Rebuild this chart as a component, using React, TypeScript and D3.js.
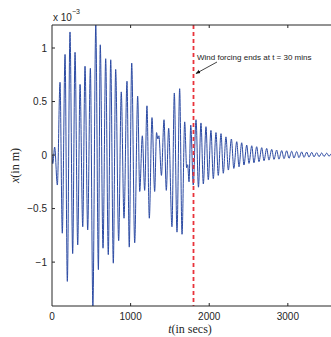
import React, { useEffect, useRef } from "react";
import * as d3 from "d3";

// extrema of the displacement signal, values in units of 1e-3 m
const forcedTimes = [0, 10, 34, 68, 102, 131, 166, 195, 229, 263, 293, 327, 357, 391, 420, 454, 488, 520, 557, 590,
  614, 649, 683, 716, 747, 780, 810, 848, 881, 916, 954, 983, 1014, 1052, 1090, 1116, 1149, 1179, 1208, 1238,
  1272, 1306, 1330, 1347, 1360, 1392, 1425, 1454, 1484, 1526, 1556, 1590, 1624, 1654, 1688, 1713, 1726, 1743,
  1765, 1797];
const forcedValues = [0, -0.08, 0.075, -0.28, 0.68, -0.73, 0.94, -1.18, 1.15, -0.92, 0.96, -0.84, 0.66, -0.67, 0.83,
  -0.7, 0.81, -1.41, 1.215, -1.07, 1.03, -0.87, 0.9, -0.93, 0.89, -1.01, 0.8, -0.8, 0.59, -0.59, 0.69, -0.86, 0.86,
  -0.82, 0.55, -0.34, 0.18, -0.33, 0.46, -0.59, 0.35, -0.34, 0.21, 0.15, 0.18, -0.19, 0.33, -0.33, 0.25, -0.67,
  0.58, -0.72, 0.62, -0.74, 0.31, -0.12, -0.09, -0.25, 0.28, -0.28];

const decayTimes = [1832, 1863, 1895, 1925, 1959, 1988, 2022, 2052, 2086, 2115, 2150, 2179, 2213, 2243, 2282, 2313,
  2350, 2379, 2413, 2442, 2477, 2506, 2541, 2569, 2604, 2633, 2668, 2697, 2731, 2760, 2795, 2824, 2858, 2887,
  2922, 2951, 2985, 3015, 3049, 3078, 3113, 3142, 3176, 3206, 3240, 3269, 3304, 3333, 3367, 3397, 3431, 3460,
  3495, 3524, 3558, 3588, 3600];
const decayValues = [0.33, -0.3, 0.3, -0.27, 0.265, -0.23, 0.23, -0.22, 0.21, -0.19, 0.2, -0.17, 0.17, -0.14, 0.15,
  -0.125, 0.125, -0.11, 0.115, -0.093, 0.093, -0.078, 0.087, -0.072, 0.078, -0.062, 0.069, -0.053, 0.062, -0.047,
  0.053, -0.04, 0.047, -0.038, 0.042, -0.034, 0.04, -0.03, 0.036, -0.027, 0.033, -0.024, 0.03, -0.021, 0.028,
  -0.019, 0.025, -0.017, 0.022, -0.015, 0.02, -0.013, 0.018, -0.011, 0.016, -0.01, 0.005];

const xTicks = [0, 1000, 2000, 3000];
const yTicks = [-1, -0.5, 0, 0.5, 1];
const forcingEnd = 1800;

const App = () => {
  const ref = useRef<SVGSVGElement>(null);

  useEffect(() => {
    const svg = d3.select(ref.current);
    svg.selectAll("*").remove();

    const width = 331;
    const height = 337;
    const left = 52, top = 25, bottom = 306, right = 335;

    const data = forcedTimes.map((t, i) => ({ t, v: forcedValues[i] }))
      .concat(decayTimes.map((t, i) => ({ t, v: decayValues[i] })));

    const x = d3.scaleLinear().domain([0, 3600]).range([left, right]);
    const y = d3.scaleLinear().domain(d3.extent(data, d => d.v) as [number, number]).range([bottom, top]);

    svg.attr("width", width).attr("height", height);

    svg.append("defs").append("clipPath").attr("id", "plotclip")
      .append("rect").attr("x", left).attr("y", top)
      .attr("width", right - left).attr("height", bottom - top);

    const axisColor = "#262626";
    const tickFont = "'Liberation Sans', Arial, sans-serif";

    // signal
    const line = d3.line<{ t: number; v: number }>()
      .x(d => x(d.t))
      .y(d => y(d.v))
      .curve(d3.curveMonotoneX);

    svg.append("path")
      .datum(data)
      .attr("clip-path", "url(#plotclip)")
      .attr("d", line)
      .attr("fill", "none")
      .attr("stroke", "#2b4aa3")
      .attr("stroke-width", 1);

    // red dashed line where the wind forcing stops
    svg.append("line")
      .attr("x1", x(forcingEnd)).attr("x2", x(forcingEnd))
      .attr("y1", top).attr("y2", bottom)
      .attr("stroke", "#e8333b")
      .attr("stroke-width", 1.8)
      .attr("stroke-dasharray", "4,3");

    // box (left, bottom, top)
    svg.append("path")
      .attr("d", `M${right},${top}H${left}V${bottom}H${right}`)
      .attr("fill", "none")
      .attr("stroke", axisColor)
      .attr("stroke-width", 1);

    // x ticks, inward from bottom and top
    xTicks.forEach(t => {
      if (t === 0) return;
      svg.append("line").attr("x1", x(t)).attr("x2", x(t)).attr("y1", bottom).attr("y2", bottom - 3)
        .attr("stroke", axisColor);
      svg.append("line").attr("x1", x(t)).attr("x2", x(t)).attr("y1", top).attr("y2", top + 3)
        .attr("stroke", axisColor);
    });
    svg.selectAll(".xlab")
      .data(xTicks)
      .enter()
      .append("text")
      .attr("x", d => x(d))
      .attr("y", bottom + 14)
      .attr("text-anchor", "middle")
      .style("font-family", tickFont)
      .style("font-size", "10px")
      .attr("fill", axisColor)
      .text(d => d);

    // y ticks, inward from left
    yTicks.forEach(t => {
      svg.append("line").attr("x1", left).attr("x2", left + 3).attr("y1", y(t)).attr("y2", y(t))
        .attr("stroke", axisColor);
    });
    svg.selectAll(".ylab")
      .data(yTicks)
      .enter()
      .append("text")
      .attr("x", left - 5)
      .attr("y", d => y(d) + 3.5)
      .attr("text-anchor", "end")
      .style("font-family", tickFont)
      .style("font-size", "10px")
      .attr("fill", axisColor)
      .text(d => (d < 0 ? "\u2212" + Math.abs(d) : String(d)));

    // exponent
    const expo = svg.append("text")
      .attr("x", left + 1)
      .attr("y", 21)
      .style("font-family", tickFont)
      .style("font-size", "10px")
      .attr("fill", axisColor);
    expo.append("tspan").text("x 10");
    expo.append("tspan").attr("dy", -7).style("font-size", "7px").text("\u22123");

    // axis labels
    const serif = "'Liberation Serif', 'Times New Roman', serif";
    const xl = svg.append("text")
      .attr("x", 190)
      .attr("y", 333)
      .attr("text-anchor", "middle")
      .style("font-family", serif)
      .style("font-size", "12px")
      .attr("fill", axisColor);
    xl.append("tspan").style("font-style", "italic").text("t");
    xl.append("tspan").text("(in secs)");

    const yl = svg.append("text")
      .attr("transform", `translate(19, ${(top + bottom) / 2}) rotate(-90)`)
      .attr("text-anchor", "middle")
      .style("font-family", serif)
      .style("font-size", "12px")
      .attr("fill", axisColor);
    yl.append("tspan").style("font-style", "italic").text("x");
    yl.append("tspan").text("(in m)");

    // annotation
    svg.append("defs").append("marker")
      .attr("id", "arrowhead")
      .attr("viewBox", "0 0 10 10")
      .attr("refX", 9).attr("refY", 5)
      .attr("markerWidth", 6).attr("markerHeight", 6)
      .attr("orient", "auto")
      .append("path").attr("d", "M0,1L10,5L0,9z").attr("fill", "#111");

    svg.append("line")
      .attr("x1", 217).attr("x2", 196)
      .attr("y1", 62).attr("y2", 73.5)
      .attr("stroke", "#111")
      .attr("stroke-width", 0.8)
      .attr("marker-end", "url(#arrowhead)");

    svg.append("text")
      .attr("x", 197)
      .attr("y", 60)
      .style("font-family", tickFont)
      .style("font-size", "8px")
      .attr("fill", "#222")
      .text("Wind forcing ends at t = 30 mins");
  }, []);

  return (
    <div style={{ position: "absolute", left: 0, top: 0 }}>
      <svg ref={ref}></svg>
    </div>
  );
};

export default App;
